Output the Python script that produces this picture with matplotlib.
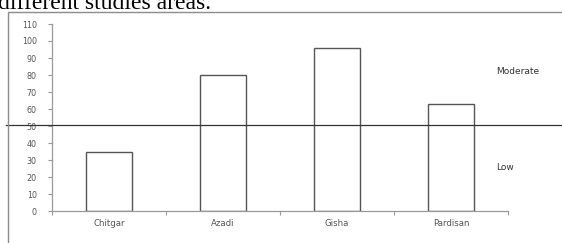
import matplotlib.pyplot as plt
from matplotlib.patches import Rectangle

# data
areas = ['Chitgar', 'Azadi', 'Gisha', 'Pardisan']
values = [35, 80, 96, 63]
threshold = 50.5
y_ticks = list(range(0, 111, 10))

W, H = 562, 243
fig = plt.figure(figsize=(W / 100, H / 100), dpi=100)

# caption fragment cut at the top
fig.text(-0.004, 1 - 9 / H, 'different studies areas.', family='Liberation Serif',
         fontsize=17, va='baseline', ha='left')

# frame around the chart
fig.patches.append(Rectangle((8 / W, -0.1), 1.0, 1 - 12 / H + 0.1,
                             transform=fig.transFigure, fill=False,
                             edgecolor='#8c8c8c', linewidth=1.0))

ax = fig.add_axes([52 / W, 1 - 211 / H, 456 / W, 187 / H])
x = range(len(areas))
ax.bar(x, values, width=0.4, color='white', edgecolor='#555555', linewidth=1.0, zorder=2)
ax.set_xlim(-0.5, len(areas) - 0.5)
ax.set_ylim(0, 110)

ax.axhline(threshold, xmin=-0.1, xmax=1.2, color='#333333', linewidth=0.9,
           clip_on=False, zorder=3)

for s in ['top', 'right']:
    ax.spines[s].set_visible(False)
for s in ['left', 'bottom']:
    ax.spines[s].set_color('#999999')
    ax.spines[s].set_linewidth(0.9)

ax.set_yticks(y_ticks)
ax.set_yticklabels([str(v) for v in y_ticks])
ax.tick_params(axis='y', length=3, color='#999999', labelsize=5.8,
               labelcolor='#555555', pad=8)
ax.set_xticks([i - 0.5 for i in range(len(areas) + 1)])
ax.set_xticklabels([])
ax.set_xticks(list(x), minor=True)
ax.set_xticklabels(areas, minor=True)
ax.tick_params(axis='x', which='major', length=3, color='#999999')
ax.tick_params(axis='x', which='minor', length=0, labelsize=6.2,
               labelcolor='#555555', pad=6)

fig.text(518 / W, 1 - 71 / H, 'Moderate', fontsize=6.5,
         color='#333333', ha='center', va='center')
fig.text(505 / W, 1 - 167 / H, 'Low', fontsize=6.5,
         color='#333333', ha='center', va='center')

fig.savefig('out.png', dpi=100)
